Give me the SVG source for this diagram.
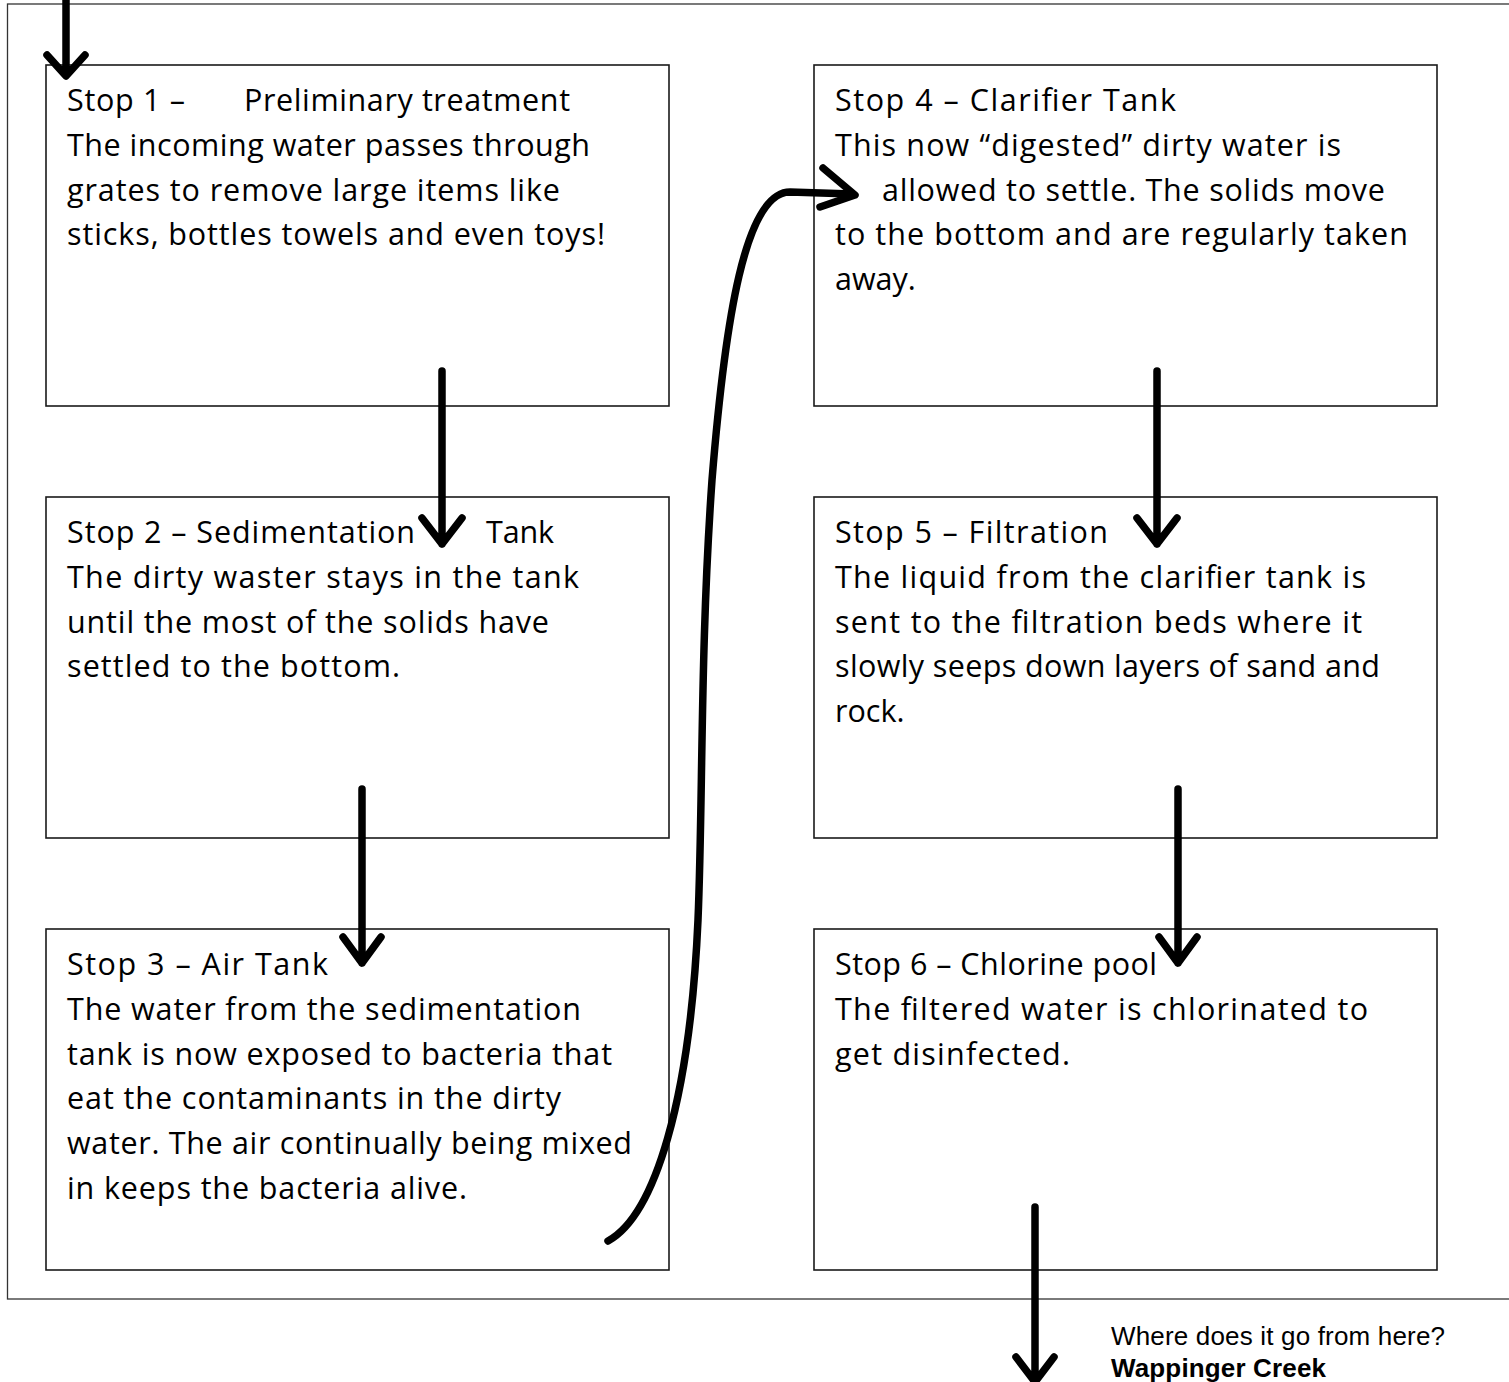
<svg xmlns="http://www.w3.org/2000/svg" width="1509" height="1382" viewBox="0 0 1509 1382">
<style>
.bg{fill:#fff}
.frame{fill:none;stroke:#333;stroke-width:1.3}
.box{fill:#fff;stroke:#1a1a1a;stroke-width:1.6}
.t{font-family:"Open Sans","DejaVu Sans",sans-serif;font-size:30.5px;fill:#000}
.a{fill:none;stroke:#000;stroke-width:7.5;stroke-linecap:round;stroke-linejoin:round}
.note{font-family:"Liberation Sans",Arial,sans-serif;font-size:26px;fill:#000}
</style>
<rect class="bg" x="0" y="0" width="1509" height="1382"/>
<rect class="frame" x="7.5" y="4" width="1510" height="1295"/>

<g id="stop1">
<rect class="box" x="46" y="65" width="623" height="341"/>
<text class="t" x="67" y="111" textLength="118">Stop 1 –</text>
<text class="t" x="244" y="111" textLength="326">Preliminary treatment</text>
<text class="t" x="67" y="155.8" textLength="523">The incoming water passes through</text>
<text class="t" x="67" y="200.6" textLength="493">grates to remove large items like</text>
<text class="t" x="67" y="245.4" textLength="538">sticks, bottles towels and even toys!</text>
</g>

<g id="stop2">
<rect class="box" x="46" y="497" width="623" height="341"/>
<text class="t" x="67" y="543" textLength="348">Stop 2 – Sedimentation</text>
<text class="t" x="486" y="543" textLength="68">Tank</text>
<text class="t" x="67" y="587.8" textLength="512">The dirty waster stays in the tank</text>
<text class="t" x="67" y="632.6" textLength="482">until the most of the solids have</text>
<text class="t" x="67" y="677.4" textLength="333">settled to the bottom.</text>
</g>

<g id="stop3">
<rect class="box" x="46" y="929" width="623" height="341"/>
<text class="t" x="67" y="975" textLength="261">Stop 3 – Air Tank</text>
<text class="t" x="67" y="1019.8" textLength="514">The water from the sedimentation</text>
<text class="t" x="67" y="1064.6" textLength="545">tank is now exposed to bacteria that</text>
<text class="t" x="67" y="1109.4" textLength="494">eat the contaminants in the dirty</text>
<text class="t" x="67" y="1154.2" textLength="565">water. The air continually being mixed</text>
<text class="t" x="67" y="1199" textLength="400">in keeps the bacteria alive.</text>
</g>

<g id="stop4">
<rect class="box" x="814" y="65" width="623" height="341"/>
<text class="t" x="835" y="111" textLength="341">Stop 4 – Clarifier Tank</text>
<text class="t" x="835" y="155.8" textLength="506">This now “digested” dirty water is</text>
<text class="t" x="882" y="200.6" textLength="503">allowed to settle. The solids move</text>
<text class="t" x="835" y="245.4" textLength="573">to the bottom  and are regularly taken</text>
<text class="t" x="835" y="290.2">away.</text>
</g>

<g id="stop5">
<rect class="box" x="814" y="497" width="623" height="341"/>
<text class="t" x="835" y="543" textLength="273">Stop 5 – Filtration</text>
<text class="t" x="835" y="587.8" textLength="531">The liquid from the clarifier tank is</text>
<text class="t" x="835" y="632.6" textLength="527">sent to the filtration beds where it</text>
<text class="t" x="835" y="677.4" textLength="545">slowly seeps down layers of sand and</text>
<text class="t" x="835" y="722.2">rock.</text>
</g>

<g id="stop6">
<rect class="box" x="814" y="929" width="623" height="341"/>
<text class="t" x="835" y="975" textLength="322">Stop 6 – Chlorine pool</text>
<text class="t" x="835" y="1019.8" textLength="533">The filtered water is chlorinated to</text>
<text class="t" x="835" y="1064.6" textLength="235">get disinfected.</text>
</g>

<g id="connectors">
<path class="a" d="M66,-5 V75 M47,55 L66,76 L85,55"/>
<path class="a" d="M442,371 V544 M422,518 L442,544 L462,518"/>
<path class="a" d="M362,789 V963 M343,937 L362,963 L381,937"/>
<path class="a" d="M1157,371 V544 M1137,518 L1157,544 L1177,518"/>
<path class="a" d="M1178,789 V963 M1159,937 L1178,963 L1197,937"/>
<path class="a" d="M1035,1207 V1385 M1016,1357 L1035,1382 L1054,1357"/>
<path class="a" d="M608,1241 C655,1215 690,1100 698,920 C703,800 700,650 712,480 C725,320 745,192 790,192 L852,194"/>
<path class="a" d="M823,168 L855,195 L820,207"/>
</g>

<g id="note">
<text class="note" x="1111" y="1345" textLength="334">Where does it go from here?</text>
<text class="note" x="1111" y="1377" font-weight="bold" textLength="215">Wappinger Creek</text>
</g>
</svg>
